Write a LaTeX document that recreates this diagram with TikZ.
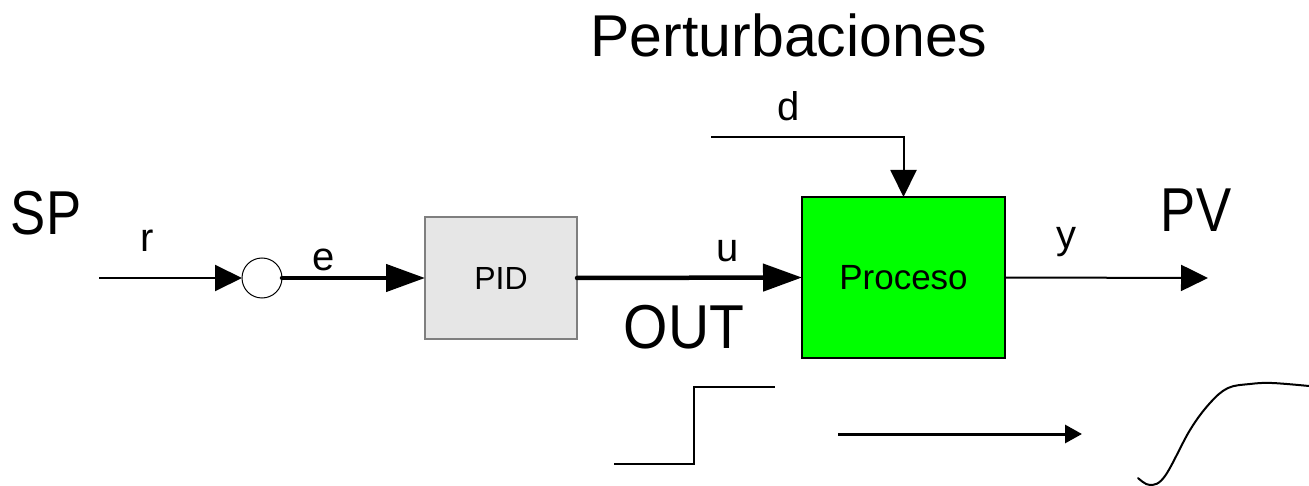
\documentclass[tikz,border=0pt]{standalone}
\usepackage{fontspec}
\setmainfont{Liberation Sans}
\usepackage{graphicx}
\usetikzlibrary{arrows.meta}
\definecolor{pidgray}{HTML}{E6E6E6}
\definecolor{pidedge}{HTML}{7F7F7F}
\definecolor{procgreen}{HTML}{00FF00}
\tikzset{
  lbl/.style={font=\fontsize{40}{48}\selectfont, inner sep=0pt, anchor=base},
  big/.style={font=\fontsize{62}{70}\selectfont, inner sep=0pt, anchor=base},
  title/.style={font=\fontsize{59}{66}\selectfont, inner sep=0pt, anchor=base},
  thin/.style={line width=2pt},
  thick line/.style={line width=4.5pt, line cap=round},
  thinarrow/.style={thin, -{Triangle[length=27pt,width=26pt]}},
  thickarrow/.style={thick line, -{Triangle[length=39pt,width=27pt]}},
  pidbox/.style={draw=pidedge, fill=pidgray, line width=1.5pt, minimum width=152pt, minimum height=122pt, inner sep=0pt, outer sep=0pt, font=\fontsize{32}{38}\selectfont},
  procbox/.style={draw=black, fill=procgreen, line width=1.5pt, minimum width=203pt, minimum height=161pt, inner sep=0pt, outer sep=0pt, font=\fontsize{35}{42}\selectfont},
  sumnode/.style={circle, draw=black, fill=white, line width=1pt, minimum size=40pt, inner sep=0pt, outer sep=0pt},
}
\begin{document}
\begin{tikzpicture}[x=1pt,y=-1pt]
\fill[white] (0,0) rectangle (1309,486);
\useasboundingbox (0,0) rectangle (1309,486);

% blocks
\node[sumnode] (sum) at (262,278) {};
\node[pidbox] (pid) at (501,278) {PID};
\node[procbox] (proc) at (903.5,277.5) {Proceso};

% free ends
\coordinate (rin) at (99,278);
\coordinate (din) at (711,137);
\coordinate (yout) at (1208,278);

% connectors
\draw[thinarrow] (rin) -- (sum.west);
\draw[thickarrow] (sum.east) -- (pid.west);
\draw[thickarrow] (pid.east) -- (proc.west);
\draw[thinarrow] (din) -| (proc.north);
\draw[thinarrow] (proc.east) -- (yout);

% labels
\node[big] (sp) at (46,235) {\scalebox{0.85}[1]{SP}};
\node[big] (pv) at (1196,232) {\scalebox{0.85}[1]{PV}};
\node[big] (out) at (684,348) {\scalebox{0.92}[1]{OUT}};
\node[title] (pert) at (789,57) {Perturbaciones};
\node[lbl] (lr) at (147,252) {r};
\node[lbl] (le) at (324,271) {e};
\node[lbl] (lu) at (728,262) {u};
\node[lbl] (ly) at (1066,249) {y};
\node[lbl] (ld) at (789,121) {d};

% step input
\draw[thin] (614,464) -- (694,464) -- (694,387) -- (775,387);
% arrow
\coordinate (ba) at (838,434);
\coordinate (bb) at (1082,434);
\draw[line width=3pt, -{Triangle[length=17pt,width=18pt]}] (ba) -- (bb);
% response curve
\draw[thin, line cap=round] plot[smooth, tension=0.6] coordinates {(1138,478) (1150,485) (1165,476) (1190,430) (1210,403) (1228,388) (1250,384) (1272,383) (1309,386)};
\end{tikzpicture}
\end{document}
